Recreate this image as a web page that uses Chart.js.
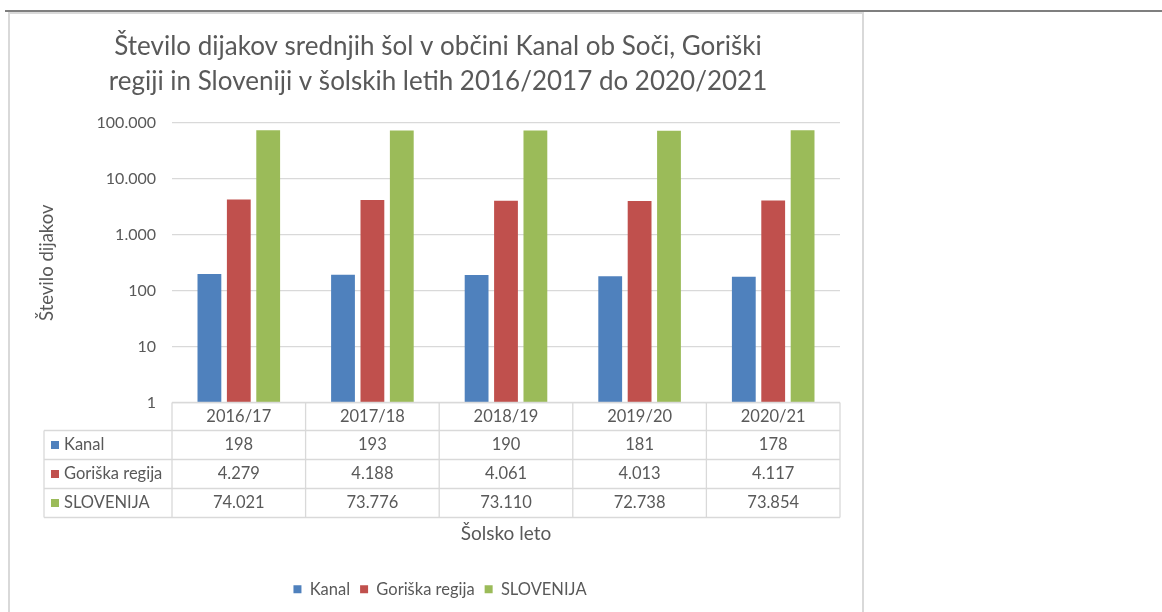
<!DOCTYPE html>
<html>
<head>
<meta charset="utf-8">
<script src="https://cdn.jsdelivr.net/npm/chart.js@4"></script>
<style>
  body { margin: 0; background: #fff; width: 1162px; height: 612px; overflow: hidden; position: relative; }
  .topline { position: absolute; left: 5px; top: 10px; width: 1157px; height: 2px; background: #7f7f7f; }
  .frame { position: absolute; left: 8px; top: 12px; width: 852px; height: 620px; border: 2px solid #d9d9d9; border-bottom: none; }
  .chart-container { position: absolute; left: 10px; top: 14px; width: 850px; height: 598px; }
</style>
</head>
<body>
<div class="topline"></div>
<div class="frame"></div>
<div class="chart-container"><canvas id="chart"></canvas></div>
<script>
const categories = ['2016/17', '2017/18', '2018/19', '2019/20', '2020/21'];
const kanal = [198, 193, 190, 181, 178];
const goriska = [4279, 4188, 4061, 4013, 4117];
const slovenija = [74021, 73776, 73110, 72738, 73854];
const seriesNames = ['Kanal', 'Goriška regija', 'SLOVENIJA'];
const seriesColors = ['#4f81bd', '#c0504d', '#9bbb59'];
const yTicks = [1, 10, 100, 1000, 10000, 100000];
const yTickLabels = ['1', '10', '100', '1.000', '10.000', '100.000'];

const FONT = 'Lato';
const TEXT = '#595959';
const LINE = '#d9d9d9';

// thousands separator with a dot, like the source
const fmt = (v) => String(v).replace(/\B(?=(\d{3})+(?!\d))/g, '.');

// data table under the plot, built from the x scale
const dataTable = {
  id: 'dataTable',
  afterDraw(chart) {
    const { ctx, chartArea, scales: { x } } = chart;
    const headTop = chartArea.bottom;
    const headBottom = headTop + 28;
    const rowH = 29;
    const tableLeft = 34;
    const bottom = headBottom + rowH * 3;
    const colW = (x.right - x.left) / categories.length;

    ctx.save();
    ctx.strokeStyle = LINE;
    ctx.lineWidth = 1.3;
    ctx.beginPath();
    // header row top
    ctx.moveTo(x.left, headTop); ctx.lineTo(x.right, headTop);
    // row lines
    for (let r = 0; r <= 3; r++) {
      const y = headBottom + r * rowH;
      ctx.moveTo(tableLeft, y); ctx.lineTo(x.right, y);
    }
    // column lines
    for (let c = 0; c <= categories.length; c++) {
      const cx = x.left + c * colW;
      ctx.moveTo(cx, headTop); ctx.lineTo(cx, bottom);
    }
    ctx.moveTo(tableLeft, headBottom); ctx.lineTo(tableLeft, bottom);
    ctx.stroke();

    ctx.font = `16.5px ${FONT}`;
    ctx.fillStyle = TEXT;
    ctx.textBaseline = 'middle';
    chart.data.datasets.forEach((ds, r) => {
      const cy = headBottom + r * rowH + rowH / 2;
      ctx.fillStyle = ds.backgroundColor;
      ctx.fillRect(tableLeft + 7, cy - 4, 8, 8);
      ctx.fillStyle = TEXT;
      ctx.textAlign = 'left';
      ctx.fillText(ds.label, tableLeft + 20, cy);
      ctx.textAlign = 'center';
      ds.data.forEach((v, i) => {
        ctx.fillText(fmt(v), x.getPixelForValue(i), cy);
      });
    });
    ctx.restore();
  }
};

// nudge the legend to where the source has it
const legendShift = {
  id: 'legendShift',
  afterLayout(chart) {
    if (chart.legend) {
      chart.legend.left += 2;
      chart.legend.right += 2;
    }
  }
};

new Chart(document.getElementById('chart'), {
  type: 'bar',
  data: {
    labels: categories,
    datasets: [
      { label: seriesNames[0], data: kanal, backgroundColor: seriesColors[0] },
      { label: seriesNames[1], data: goriska, backgroundColor: seriesColors[1] },
      { label: seriesNames[2], data: slovenija, backgroundColor: seriesColors[2] },
    ],
  },
  options: {
    responsive: true,
    maintainAspectRatio: false,
    animation: false,
    categoryPercentage: 0.66,
    barPercentage: 0.81,
    layout: { padding: { left: 26, right: 20, top: 0, bottom: 4.5 } },
    scales: {
      x: {
        grid: { display: false, drawTicks: false },
        border: { display: false },
        ticks: { color: TEXT, font: { family: FONT, size: 16.5 }, padding: 4, maxRotation: 0 },
        title: {
          display: true,
          text: 'Šolsko leto',
          color: TEXT,
          font: { family: FONT, size: 19 },
          padding: { top: 0, bottom: 26 },
        },
        afterFit: (scale) => { scale.height = 168.5; },
      },
      y: {
        type: 'logarithmic',
        min: 1,
        max: 100000,
        afterBuildTicks: (scale) => { scale.ticks = yTicks.map((v) => ({ value: v })); },
        ticks: {
          color: TEXT,
          font: { family: FONT, size: 16 },
          padding: 16,
          callback: (value, index) => yTickLabels[index],
        },
        grid: { color: LINE, lineWidth: 1.3, drawTicks: false },
        border: { display: false },
        title: {
          display: true,
          text: 'Število dijakov',
          color: TEXT,
          font: { family: FONT, size: 18.5 },
          padding: { top: 0, bottom: 0 },
        },
        afterFit: (scale) => { scale.width = 136; },
      },
    },
    plugins: {
      title: {
        display: true,
        text: ['Število dijakov srednjih šol v občini Kanal ob Soči, Goriški', 'regiji in Sloveniji v šolskih letih 2016/2017 do 2020/2021'],
        color: TEXT,
        font: { family: FONT, size: 26, weight: 'normal', lineHeight: 1.346 },
        padding: { top: 15.5, bottom: 23.5 },
      },
      legend: {
        position: 'bottom',
        labels: {
          color: TEXT,
          font: { family: FONT, size: 16.5 },
          boxWidth: 8,
          boxHeight: 8,
          padding: 10,
        },
      },
      tooltip: { enabled: false },
    },
  },
  plugins: [dataTable, legendShift],
});
</script>
</body>
</html>
